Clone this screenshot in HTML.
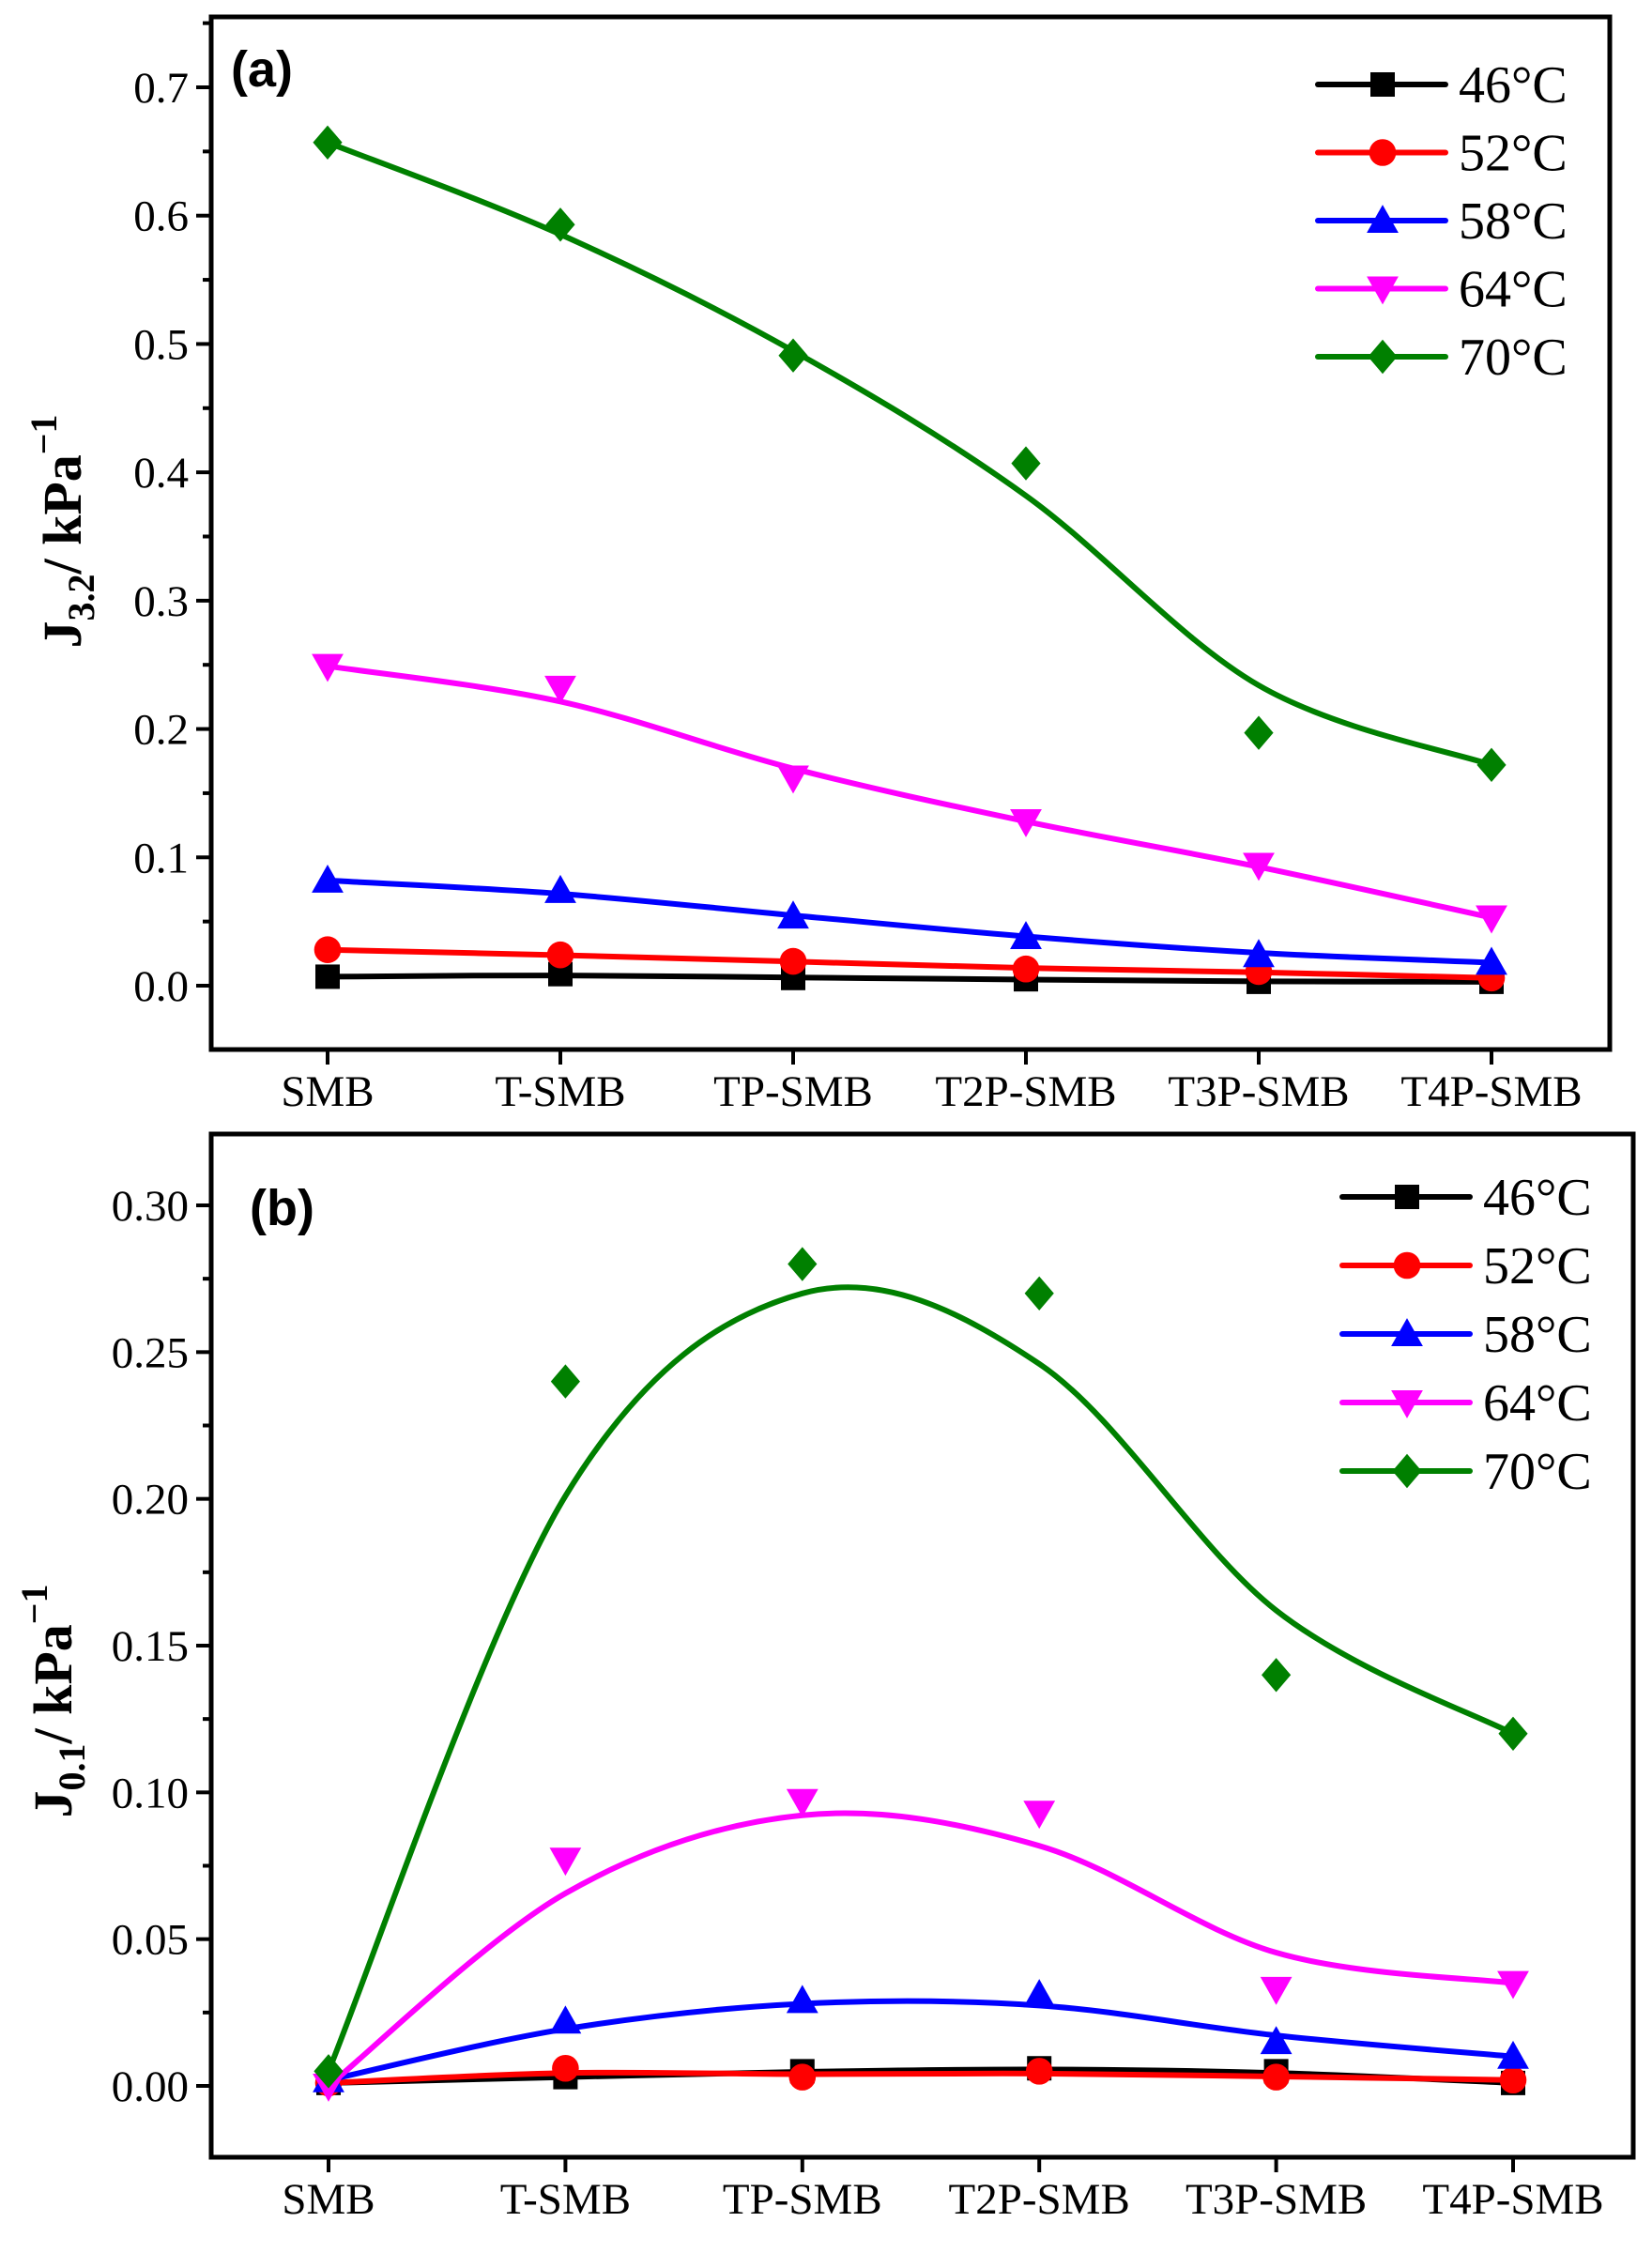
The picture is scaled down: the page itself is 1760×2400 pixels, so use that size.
<!DOCTYPE html>
<html><head><meta charset="utf-8"><style>
html,body{margin:0;padding:0;background:#fff}
svg{display:block}
text{font-family:"Liberation Serif",serif}
</style></head><body>
<svg id="chart" width="1760" height="2400" viewBox="0 0 1760 2400" xmlns="http://www.w3.org/2000/svg"></svg>
<script>
const categories = ["SMB","T-SMB","TP-SMB","T2P-SMB","T3P-SMB","T4P-SMB"];
const seriesNames = ["46°C","52°C","58°C","64°C","70°C"];
const a46 = [0.007,0.009,0.006,0.005,0.003,0.003];
const a52 = [0.028,0.024,0.019,0.013,0.011,0.006];
const a58 = [0.082,0.074,0.054,0.038,0.024,0.018];
const a64 = [0.249,0.232,0.162,0.128,0.094,0.053];
const a70 = [0.657,0.593,0.491,0.407,0.197,0.172];
const b46 = [0.001,0.003,0.005,0.006,0.005,0.001];
const b52 = [0.001,0.006,0.003,0.005,0.003,0.002];
const b58 = [0.002,0.022,0.029,0.031,0.015,0.010];
const b64 = [0.000,0.077,0.097,0.093,0.033,0.035];
const b70 = [0.005,0.240,0.280,0.270,0.140,0.120];
const aTicks = ["0.0","0.1","0.2","0.3","0.4","0.5","0.6","0.7"];
const bTicks = ["0.00","0.05","0.10","0.15","0.20","0.25","0.30"];

const NS="http://www.w3.org/2000/svg";
const svg=document.getElementById('chart');
const colors=["#000000","#ff0000","#0000ff","#ff00ff","#008000"];
const shapes=["square","circle","up","down","diamond"];
function el(tag,attrs,parent){const e=document.createElementNS(NS,tag);for(const k in attrs)e.setAttribute(k,attrs[k]);(parent||svg).appendChild(e);return e;}

function marker(g,shape,x,y,c,s){
  let e;
  if(shape==="square") e=el('rect',{x:x-s,y:y-s,width:2*s,height:2*s,fill:c},g);
  else if(shape==="circle") e=el('circle',{cx:x,cy:y,r:s*1.1,fill:c},g);
  else if(shape==="up") e=el('polygon',{points:`${x},${y-s*1.3} ${x+s*1.3},${y+s} ${x-s*1.3},${y+s}`,fill:c},g);
  else if(shape==="down") e=el('polygon',{points:`${x},${y+s*1.3} ${x+s*1.3},${y-s} ${x-s*1.3},${y-s}`,fill:c},g);
  else e=el('polygon',{points:`${x},${y-s*1.4} ${x+s*1.2},${y} ${x},${y+s*1.4} ${x-s*1.2},${y}`,fill:c},g);
  return e;
}
function smoothVals(v){
  return v.map((x,i)=> (i===0||i===v.length-1)? x : 0.2*v[i-1]+0.6*x+0.2*v[i+1]);
}
function smoothPath(pts){
  let d=`M${pts[0][0]},${pts[0][1]}`;
  for(let i=0;i<pts.length-1;i++){
    const p0=pts[Math.max(0,i-1)],p1=pts[i],p2=pts[i+1],p3=pts[Math.min(pts.length-1,i+2)];
    const c1=[p1[0]+(p2[0]-p0[0])/6,p1[1]+(p2[1]-p0[1])/6];
    const c2=[p2[0]-(p3[0]-p1[0])/6,p2[1]-(p3[1]-p1[1])/6];
    d+=` C${c1[0]},${c1[1]} ${c2[0]},${c2[1]} ${p2[0]},${p2[1]}`;
  }
  return d;
}

function panel(cfg){
  const g=el('g',{});
  
  
  const {L,R,T,B,x0,dx,y0,yTop,vTop,ticks,step,data}=cfg;
  const X=i=>x0+i*dx;
  const Y=v=>y0-(v/vTop)*(y0-yTop);
  const fr=el('rect',{x:L,y:T,width:R-L,height:B-T,fill:'none',stroke:'#000','stroke-width':5},g);
  
  
  ticks.forEach((t,i)=>{
    const v=i*step,y=Y(v);
    el('line',{x1:L-16,x2:L,y1:y,y2:y,stroke:'#000','stroke-width':4},g);
    const tx=el('text',{x:L-24,y:y+16,'text-anchor':'end','font-size':47},g);
    tx.textContent=t;
    
    
    const ym=Y(v+step/2);
    if(ym>T) el('line',{x1:L-9,x2:L,y1:ym,y2:ym,stroke:'#000','stroke-width':4},g);
  });
  const ymn=Y(-step/2); if(ymn<B) el('line',{x1:L-9,x2:L,y1:ymn,y2:ymn,stroke:'#000','stroke-width':4},g);
  categories.forEach((c,i)=>{
    el('line',{x1:X(i),x2:X(i),y1:B,y2:B+16,stroke:'#000','stroke-width':4},g);
    const tx=el('text',{x:X(i),y:B+60,'text-anchor':'middle','font-size':47},g);
    tx.textContent=c;
    
    
  });
  data.forEach((vals,s)=>{
    const sg=el('g',{},g);
    
    
    const sm=smoothVals(vals);
    const cpts=sm.map((v,i)=>[X(i),Y(v)]);
    const p=el('path',{d:smoothPath(cpts),fill:'none',stroke:colors[s],'stroke-width':6},sg);
    
    
    vals.forEach((v,i)=>{
      const m=marker(sg,shapes[s],X(i),Y(v),colors[s],13);
      
      
    });
  });
  const lg=el('g',{},g);
  
  
  seriesNames.forEach((n,s)=>{
    const y=cfg.legY+s*cfg.legDy;
    const eg=el('g',{},lg);
    
    
    el('line',{x1:cfg.legX,x2:cfg.legX+136,y1:y,y2:y,stroke:colors[s],'stroke-width':6,'stroke-linecap':'round'},eg);
    marker(eg,shapes[s],cfg.legX+69,y,colors[s],13);
    const t=el('text',{x:cfg.legX+150,y:y+19,'font-size':56},eg);
    t.textContent=n;
  });
  const pl=el('text',{x:cfg.labX,y:cfg.labY,'font-size':54,'font-weight':'bold',style:'font-family:"Liberation Sans",sans-serif'},g);
  pl.textContent=cfg.label;
  
  
  const yt=el('text',{transform:`translate(${cfg.ytX},${cfg.ytY}) rotate(-90)`,'text-anchor':'middle','font-size':58,'font-weight':'bold'},g);
  
  
  yt.innerHTML=`J<tspan font-size="40" dy="14">${cfg.sub}</tspan><tspan dy="-14">/ kPa</tspan><tspan font-size="40" dy="-26">−1</tspan>`;
}

panel({name:'panel-a',L:225,R:1715,T:18,B:1118,x0:349,dx:248,y0:1050,yTop:93,vTop:0.7,ticks:aTicks,step:0.1,
  data:[a46,a52,a58,a64,a70],legX:1404,legY:90,legDy:72.5,label:'(a)',labX:246,labY:92,sub:'3.2',ytX:86,ytY:566});
panel({name:'panel-b',L:225,R:1740,T:1208,B:2298,x0:350,dx:252.4,y0:2222,yTop:1284,vTop:0.30,ticks:bTicks,step:0.05,
  data:[b46,b52,b58,b64,b70],legX:1430,legY:1275,legDy:73,label:'(b)',labX:266,labY:1305,sub:'0.1',ytX:76,ytY:1812});
</script>
</body></html>
